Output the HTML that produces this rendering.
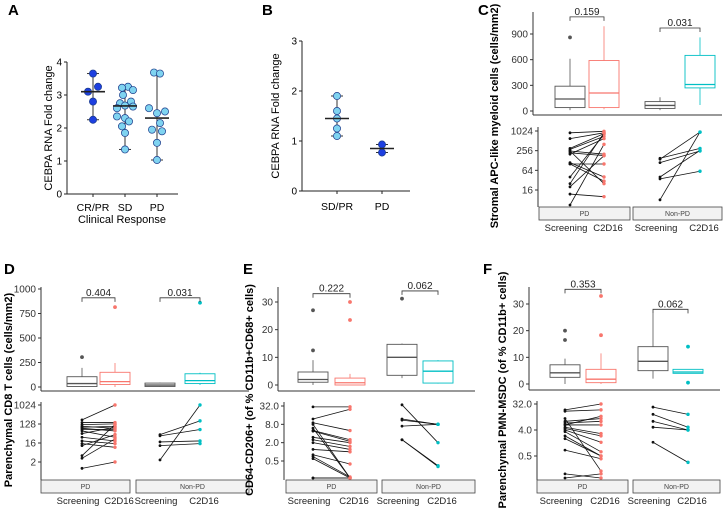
<!DOCTYPE html>
<html><head><meta charset="utf-8"><style>
body{margin:0;background:#fff;font-family:"Liberation Sans",sans-serif}
svg{display:block}
</style></head><body>
<svg id="fig" width="726" height="509" viewBox="0 0 726 509" xmlns="http://www.w3.org/2000/svg" font-family="Liberation Sans, sans-serif"></svg>
<script>
// ---- Panel A data ----
const aCats=['CR/PR','SD','PD'];
const aCRPR=[3.65,3.25,3.1,2.8,2.25];
const aSD=[3.25,3.22,3.15,3.0,2.8,2.75,2.68,2.65,2.6,2.35,2.3,2.2,2.05,1.85,1.35];
const aPD=[3.68,3.65,2.6,2.5,2.45,2.15,1.95,1.9,1.55,1.03];
const aMed=[3.1,2.67,2.3];
const aTicks=[0,1,2,3,4];
// ---- Panel B data ----
const bCats=['SD/PR','PD'];
const bSDPR=[1.9,1.6,1.45,1.25,1.1];
const bPD=[0.93,0.77];
const bMed=[1.45,0.85];
const bTicks=[0,1,2,3];
// ---- Panel C data ----
const cBoxes=[[10,40,140,290,610],[20,40,210,590,990],[10,30,65,110,160],[70,270,310,650,860]];
const cOut=[[860],[],[],[]];
const cP=['0.159','0.031'];
const cPY=[1100,970];
const cTicks=[0,300,600,900];
const cLogTicks=[16,64,256,1024];
const cPDscr=[900,600,300,280,250,220,200,110,100,100,40,25,20,12,5,250];
const cPDc2=[1000,900,850,700,200,180,600,40,100,30,800,900,180,10,400,25];
const cNPscr=[150,140,110,40,35,8];
const cNPc2=[300,950,250,260,60,950];
// ---- Panel D data ----
const dBoxes=[[0,5,35,105,195],[0,25,55,150,245],[0,5,20,40,45],[20,35,65,135,145]];
const dOut=[[305],[815],[],[860]];
const dP=['0.404','0.031'];
const dPY=[910,910];
const dTicks=[0,250,500,750,1000];
const dLogTicks=[2,16,128,1024];
const dPDscr=[200,150,120,90,70,60,45,30,20,15,12,4,3,1,100,80];
const dPDc2=[1024,150,130,100,70,30,90,20,15,10,40,120,25,2,80,60];
const dNPscr=[40,35,18,12,2.5];
const dNPc2=[180,70,20,15,1024];
// ---- Panel E data ----
const eBoxes=[[0,1,2,4.7,9],[0,0,0.8,2.5,4],[2.5,3.5,10,14.7,15],[0.5,0.7,5,8.7,9]];
const eOut=[[12.5,27],[23.5,30],[31.2],[]];
const eP=['0.222','0.062'];
const ePY=[33,34];
const eTicks=[0,10,20,30];
const eLogTicks=[0.5,2,8,32];
const eLogLabels=['0.5','2.0','8.0','32.0'];
const ePDscr=[30,12,9,5,4.8,3,2.5,2,1.2,0.8,0.7,0.6,0.13,0.13,6,8];
const ePDc2=[30,25,5,2.5,2.2,2,1.5,1.2,1,0.4,0.15,0.13,0.13,0.13,0.13,0.13];
const eNPscr=[35,12,11,7,2.5,2.5];
const eNPc2=[2,8,8,8,0.35,0.33];
// ---- Panel F data ----
const fBoxes=[[0,2.5,4.2,7.2,9.5],[0,0.5,1.8,5.5,11.5],[2,5,8.5,14,26.5],[4,4,4.5,5.5,5.5]];
const fOut=[[16.5,20],[18.3,33],[],[0.5,14]];
const fP=['0.353','0.062'];
const fPY=[35.5,28];
const fTicks=[0,10,20,30];
const fLogTicks=[0.5,4,32];
const fLogLabels=['0.5','4.0','32.0'];
const fPDscr=[20,18,8,7,6,5,4.5,4,3.5,2.5,2,0.8,0.08,0.12,10,6];
const fPDc2=[32,20,10,8,6,3,2.5,1.5,0.7,0.5,0.5,0.4,0.12,0.08,0.15,12];
const fNPscr=[25,14,8,5,1.5];
const fNPc2=[14,5,4,4,0.3];

const NS='http://www.w3.org/2000/svg';
const svg=document.getElementById('fig');
function mk(tag,attrs,parent,text){const e=document.createElementNS(NS,tag);for(const k in attrs)e.setAttribute(k,attrs[k]);if(text!==undefined)e.textContent=text;(parent||svg).appendChild(e);return e;}
function grp(name){const g=mk('g',{});return g;}
function label(txt,x,y){const t=mk('text',{x:x,y:y,'font-size':15,'font-weight':'bold'},svg,txt);}

function dotPanel(o){
  const g=grp(o.name);
  const y=v=>o.y0+(o.y1-o.y0)*(v-o.t0)/(o.t1-o.t0);
  mk('line',{x1:o.ax,y1:y(o.t1),x2:o.ax,y2:y(o.t0),stroke:'#222','stroke-width':1},g);
  mk('line',{x1:o.ax,y1:y(o.t0),x2:o.axEnd,y2:y(o.t0),stroke:'#222','stroke-width':1},g);
  o.ticks.forEach(t=>{mk('line',{x1:o.ax-3,y1:y(t),x2:o.ax,y2:y(t),stroke:'#222'},g);
    const tl=mk('text',{x:o.ax-5,y:y(t)+3.5,'font-size':10,'text-anchor':'end'},g,t);});
  const yt=mk('text',{transform:`translate(${o.titleX},${(y(o.t0)+y(o.t1))/2}) rotate(-90)`,'font-size':11,'text-anchor':'middle'},g,'CEBPA RNA Fold change');
  
  o.cats.forEach((c,i)=>{
    const cx=o.cx[i],vals=o.groups[i];
    mk('line',{x1:cx,y1:y(o.t0),x2:cx,y2:y(o.t0)+3,stroke:'#222'},g);
    const cl=mk('text',{x:cx,y:o.labY,'font-size':10.5,'text-anchor':'middle'},g,c);
    const mn=Math.min(...vals),mx=Math.max(...vals);
    mk('line',{x1:cx,y1:y(mn),x2:cx,y2:y(mx),stroke:'#333','stroke-width':1},g);
    mk('line',{x1:cx-6,y1:y(mn),x2:cx+6,y2:y(mn),stroke:'#333'},g);
    mk('line',{x1:cx-6,y1:y(mx),x2:cx+6,y2:y(mx),stroke:'#333'},g);
    vals.forEach((v,j)=>{const d=mk('circle',{cx:cx+o.jit[i][j%o.jit[i].length],cy:y(v),r:3.6,fill:o.col[i],stroke:'#1a3a8a','stroke-width':0.7},g);
      });
    mk('line',{x1:cx-12,y1:y(o.med[i]),x2:cx+12,y2:y(o.med[i]),stroke:'#222','stroke-width':1.6},g);
  });
}
const LB='#7fd3f0',DB='#1d3fe0';
dotPanel({name:'panel-a',ax:67,axEnd:178,y0:194,y1:62,t0:0,t1:4,ticks:aTicks,titleX:52,cats:aCats,cx:[93,125,157],labY:211,
  groups:[aCRPR,aSD,aPD],med:aMed,col:[DB,LB,LB],
  jit:[[0,5,-5,0,0],[3,-3,8,-2,6,-5,0,8,-8,-8,0,4,-3,0,0],[-3,3,-8,8,0,3,-5,5,0,0]]});
const at=mk('text',{x:122,y:223,'font-size':11,'text-anchor':'middle'},svg,'Clinical Response');
dotPanel({name:'panel-b',ax:302,axEnd:410,y0:191,y1:41,t0:0,t1:3,ticks:bTicks,titleX:279,cats:bCats,cx:[337,382],labY:210,
  groups:[bSDPR,bPD],med:bMed,col:[LB,DB],jit:[[0,0,0,0,0],[0,0]]});
label('A',8,15);label('B',262,15);

function facet(o){
  const g=grp(o.name);
  const yu=v=>o.u0+(o.u1-o.u0)*(v-o.ut0)/(o.ut1-o.ut0);
  const yl=v=>o.l0+(o.l1-o.l0)*(Math.log2(v)-Math.log2(o.lt0))/(Math.log2(o.lt1)-Math.log2(o.lt0));
  const cols=['#555','#f8766d','#555','#00bfc4'];
  mk('line',{x1:o.ax,y1:o.uTop,x2:o.ax,y2:o.uBot,stroke:'#333'},g);
  mk('line',{x1:o.ax,y1:o.uBot,x2:o.right,y2:o.uBot,stroke:'#333'},g);
  o.uticks.forEach(t=>{mk('line',{x1:o.ax-3,y1:yu(t),x2:o.ax,y2:yu(t),stroke:'#333'},g);
    const tl=mk('text',{x:o.ax-5,y:yu(t)+3.5,'font-size':10,'text-anchor':'end',fill:'#333'},g,t);});
  o.boxes.forEach((b,i)=>{
    const cx=o.cx[i],w=30,c=cols[i];
    const bg=mk('g',{},g);
    mk('line',{x1:cx,y1:yu(b[0]),x2:cx,y2:yu(b[1]),stroke:c,'stroke-width':0.8},bg);
    mk('line',{x1:cx,y1:yu(b[3]),x2:cx,y2:yu(b[4]),stroke:c,'stroke-width':0.8},bg);
    mk('rect',{x:cx-w/2,y:yu(b[3]),width:w,height:Math.max(yu(b[1])-yu(b[3]),0.5),fill:'#fff',stroke:c,'stroke-width':0.9},bg);
    mk('line',{x1:cx-w/2,y1:yu(b[2]),x2:cx+w/2,y2:yu(b[2]),stroke:c,'stroke-width':1.3},bg);
    o.out[i].forEach(v=>{const p=mk('circle',{cx:cx,cy:yu(v),r:1.9,fill:c},bg);});
  });
  [0,1].forEach(k=>{const x1=o.cx[2*k],x2=o.cx[2*k+1],yy=yu(o.py[k]);
    mk('path',{d:`M${x1},${yy+4}V${yy}H${x2}V${yy+4}`,fill:'none',stroke:'#333','stroke-width':0.8},g);
    const pt=mk('text',{x:(x1+x2)/2,y:yy-2,'font-size':10,'text-anchor':'middle',fill:'#222'},g,o.p[k]);});
  const lax=o.lax;
  mk('line',{x1:lax,y1:o.lTop,x2:lax,y2:o.sTop,stroke:'#333'},g);
  o.lticks.forEach((t,i)=>{mk('line',{x1:lax-3,y1:yl(t),x2:lax,y2:yl(t),stroke:'#333'},g);
    const tl=mk('text',{x:lax-5,y:yl(t)+3.5,'font-size':10,'text-anchor':'end',fill:'#333'},g,o.llabels?o.llabels[i]:t);});
  const clampY=v=>Math.min(yl(v),o.sTop-2);
  [[o.pdS,o.pdC,0],[o.npS,o.npC,2]].forEach(([S,C,k])=>{
    S.forEach((v,j)=>{const a=o.cx[k],b=o.cx[k+1];
      const ln=mk('line',{x1:a,y1:clampY(v),x2:b,y2:clampY(C[j]),stroke:'#111','stroke-width':0.8},g);
      mk('circle',{cx:a,cy:clampY(v),r:1.4,fill:'#111'},g);
      mk('circle',{cx:b,cy:clampY(C[j]),r:1.7,fill:cols[k+1]},g);});
  });
  [['PD',o.s1],['Non-PD',o.s2]].forEach(([n,s])=>{
    const r=mk('rect',{x:s[0],y:o.sTop,width:s[1]-s[0],height:13,fill:'#f2f2f2',stroke:'#444','stroke-width':0.8},g);
    mk('text',{x:(s[0]+s[1])/2,y:o.sTop+9,'font-size':7,'text-anchor':'middle',fill:'#444'},g,n);});
  ['Screening','C2D16','Screening','C2D16'].forEach((t,i)=>{const tl=mk('text',{x:o.cx[i]+(i%2?4:-4),y:o.sTop+24,'font-size':9.5,'text-anchor':'middle',fill:'#222'},g,t);});
  const yt=mk('text',{transform:`translate(${o.titleX},${(o.uTop+o.sTop+13)/2}) rotate(-90)`,'font-size':11,'font-weight':'bold','text-anchor':'middle'},g,o.title);
  
}
facet({name:'panel-c',ax:533,lax:538,right:722,uTop:12,uBot:115,u0:111,u1:34,ut0:0,ut1:900,uticks:cTicks,cx:[570,604,660,700],
  boxes:cBoxes,out:cOut,p:cP,py:cPY,lTop:127,l0:190,l1:131,lt0:16,lt1:1024,lticks:cLogTicks,sTop:207,
  pdS:cPDscr,pdC:cPDc2,npS:cNPscr,npC:cNPc2,s1:[539,630],s2:[633,722],titleX:498,title:'Stromal APC-like myeloid cells (cells/mm2)'});
facet({name:'panel-d',ax:41,lax:41,right:249,uTop:287,uBot:391,u0:387,u1:289,ut0:0,ut1:1000,uticks:dTicks,cx:[82,115,160,200],
  boxes:dBoxes,out:dOut,p:dP,py:dPY,lTop:402,l0:462,l1:405,lt0:2,lt1:1024,lticks:dLogTicks,sTop:480,
  pdS:dPDscr,pdC:dPDc2,npS:dNPscr,npC:dNPc2,s1:[41,130],s2:[136,249],titleX:12,title:'Parenchymal CD8 T cells (cells/mm2)'});
facet({name:'panel-e',ax:278,lax:284,right:475,uTop:287,uBot:391,u0:385,u1:302,ut0:0,ut1:30,uticks:eTicks,cx:[313,350,402,438],
  boxes:eBoxes,out:eOut,p:eP,py:ePY,lTop:402,l0:461,l1:406,lt0:0.5,lt1:32,lticks:eLogTicks,llabels:eLogLabels,sTop:480,
  pdS:ePDscr,pdC:ePDc2,npS:eNPscr,npC:eNPc2,s1:[286,377],s2:[382,475],titleX:253,title:'CD64-CD206+ (of % CD11b+CD68+ cells)'});
facet({name:'panel-f',ax:529,lax:537,right:720,uTop:287,uBot:390,u0:384,u1:304,ut0:0,ut1:30,uticks:fTicks,cx:[565,601,653,688],
  boxes:fBoxes,out:fOut,p:fP,py:fPY,lTop:401,l0:456,l1:404,lt0:0.5,lt1:32,lticks:fLogTicks,llabels:fLogLabels,sTop:480,
  pdS:fPDscr,pdC:fPDc2,npS:fNPscr,npC:fNPc2,s1:[537,628],s2:[633,720],titleX:506,title:'Parenchymal PMN-MSDC (of % CD11b+ cells)'});
label('C',478,15);label('D',4,274);label('E',243,274);label('F',483,274);
</script>
</body></html>
